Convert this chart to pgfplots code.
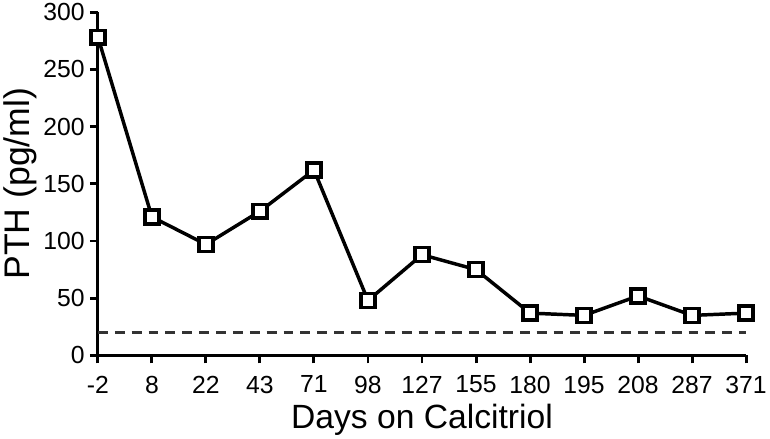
\documentclass[border=0pt]{standalone}
\usepackage{pgfplots}
\pgfplotsset{compat=1.18}
\usepackage{fontspec}
\setmainfont{Liberation Sans}

\begin{document}
\begin{tikzpicture}
\begin{axis}[
  scale only axis, width=653bp, height=346bp,
  xmin=0, xmax=12, ymin=0, ymax=300,
  axis lines=left,
  axis line style={line width=3bp, -},
  xtick={0,...,12},
  xticklabels={-2,8,22,43,71,98,127,155,180,195,208,287,371},
  ytick={0,50,...,300},
  tick align=outside, major tick length=8bp,
  tick style={line width=3bp, black},
  ticklabel style={font=\fontsize{25}{25}\selectfont},
  xticklabel style={yshift=-9bp},
  yticklabel style={xshift=-2bp},
  /pgf/number format/assume math mode=true,
  xlabel={Days on Calcitriol}, ylabel={PTH (pg/ml)},
  xlabel style={font=\fontsize{34}{34}\selectfont, yshift=-4bp},
  ylabel style={font=\fontsize{36}{36}\selectfont},
  clip=false,
]
  % reference line
  \addplot[black!80, line width=3bp, dash pattern=on 10bp off 7bp]
    coordinates {(0,20) (12,20)};
  % PTH
  \addplot[black, line width=3.5bp, mark=square*, mark size=7bp,
    mark options={fill=white, line width=3.4bp, solid}]
    coordinates {
      (0,278) (1,121) (2,97) (3,126) (4,162) (5,48) (6,88)
      (7,75) (8,37) (9,35) (10,52) (11,35) (12,37)
    };
\end{axis}
\end{tikzpicture}
\end{document}
